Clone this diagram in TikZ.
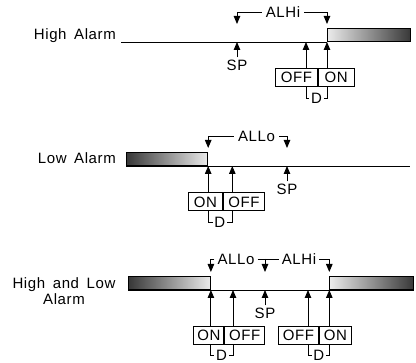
\documentclass[tikz,border=0pt]{standalone}
\usepackage{fontspec}
\setmainfont{Liberation Sans}[LetterSpace=4.0,WordSpace=1.6]
\usetikzlibrary{arrows.meta}
\begin{document}
\begin{tikzpicture}[x=1pt,y=-1pt,
  lbl/.style={font=\fontsize{15}{16}\selectfont, inner sep=0pt},
  dlbl/.style={font=\fontsize{15}{16}\selectfont, inner sep=1.5pt},
  vbox/.style={draw, line width=1pt, minimum height=18pt, inner sep=0pt, anchor=north west, font=\fontsize{15}{16}\selectfont},
  arr/.style={line width=0.9pt, -{Triangle[width=6.5pt,length=8pt]}},
  conn/.style={line width=0.9pt},
  hibar/.style={draw, line width=0.9pt, minimum height=13pt, inner sep=0pt, anchor=south west, left color=black!8, right color=black!78},
  lobar/.style={draw, line width=0.9pt, minimum height=13pt, inner sep=0pt, anchor=south west, left color=black!78, right color=black!8}
]
\useasboundingbox (0,0) rectangle (416,363);

% ---------------- Panel 1: High Alarm ----------------
\node[lbl, anchor=base east] (t1) at (116,40) {High Alarm};
\coordinate (l1s) at (121,42);
\node[hibar, minimum width=83pt] (bar1) at (327,42) {};
\draw[conn] (l1s) -- (bar1.south west);
\coordinate (sp1) at (237,42);
\coordinate (off1a) at (306,42);
\coordinate (on1a) at (bar1.south west);
\node[lbl] (alhi1) at (283,12.5) {ALHi};
\draw[arr] ([xshift=-4pt]alhi1.west) -| ([yshift=18pt]sp1);
\draw[arr] ([xshift=4pt]alhi1.east) -| ([yshift=18pt]on1a);
\node[lbl] (sp1t) at (237,65) {SP};
\draw[arr] ([yshift=2pt]sp1t.north) -- (sp1);
\node[vbox, minimum width=41.7pt] (off1) at (275,68) {OFF};
\node[vbox, minimum width=36pt] (on1) at (off1.north east) {ON};
\draw[arr] (off1a |- off1.north) -- (off1a);
\draw[arr] (on1a |- on1.north) -- (on1a);
\node[dlbl] (d1) at (316.5,98.5) {D};
\draw[conn] (off1a |- off1.south) |- (d1.west);
\draw[conn] (on1a |- on1.south) |- (d1.east);

% ---------------- Panel 2: Low Alarm ----------------
\node[lbl, anchor=base east] (t2) at (116,164) {Low Alarm};
\node[lobar, minimum width=81.3pt] (bar2) at (126,166) {};
\coordinate (l2e) at (410,166);
\draw[conn] (bar2.south west) -- (l2e);
\coordinate (on2a) at (bar2.south east);
\coordinate (off2a) at (232.3,166);
\coordinate (sp2) at (287,166);
\node[lbl] (allo2) at (256.5,136) {ALLo};
\draw[arr] ([xshift=-4pt]allo2.west) -| ([yshift=18pt]on2a);
\draw[arr] ([xshift=4pt]allo2.east) -| ([yshift=18pt]sp2);
\node[lbl] (sp2t) at (287,189) {SP};
\draw[arr] ([yshift=2pt]sp2t.north) -- (sp2);
\node[vbox, minimum width=33.4pt] (on2) at (188.3,192.5) {ON};
\node[vbox, minimum width=41.6pt] (off2) at (on2.north east) {OFF};
\draw[arr] (on2a |- on2.north) -- (on2a);
\draw[arr] (off2a |- off2.north) -- (off2a);
\node[dlbl] (d2) at (219.8,222.5) {D};
\draw[conn] (on2a |- on2.south) |- (d2.west);
\draw[conn] (off2a |- off2.south) |- (d2.east);

% ---------------- Panel 3: High and Low Alarm ----------------
\node[lbl, align=center] (t3) at (64,291) {High and Low\\Alarm};
\node[lobar, minimum width=81.7pt] (bar3l) at (128.3,290) {};
\node[hibar, minimum width=84pt] (bar3r) at (329.3,290) {};
\draw[conn] (bar3l.south west) -- (bar3r.south east);
\coordinate (on3a) at (bar3l.south east);
\coordinate (off3a) at (233,290);
\coordinate (sp3) at (265,290);
\coordinate (off3b) at (308,290);
\coordinate (on3b) at (bar3r.south west);
\node[lbl] (allo3) at (236,259) {ALLo};
\node[lbl] (alhi3) at (299,259) {ALHi};
\draw[arr] ([xshift=-3pt]allo3.west) -| ([yshift=18pt]on3a);
\draw[conn] ([xshift=3pt]allo3.east) -- ([xshift=-3pt]alhi3.west);
\draw[arr] (sp3 |- allo3.east) -- ([yshift=18pt]sp3);
\draw[arr] ([xshift=3pt]alhi3.east) -| ([yshift=18pt]on3b);
\node[lbl] (sp3t) at (265,313) {SP};
\draw[arr] ([yshift=2pt]sp3t.north) -- (sp3);
\node[vbox, minimum width=30pt] (on3) at (193.3,326) {ON};
\node[vbox, minimum width=39.7pt] (off3) at (on3.north east) {OFF};
\node[vbox, minimum width=40pt] (off4) at (278,326) {OFF};
\node[vbox, minimum width=32pt] (on4) at (off4.north east) {ON};
\draw[arr] (on3a |- on3.north) -- (on3a);
\draw[arr] (off3a |- off3.north) -- (off3a);
\draw[arr] (off3b |- off4.north) -- (off3b);
\draw[arr] (on3b |- on4.north) -- (on3b);
\node[dlbl] (d3) at (221.5,355.5) {D};
\draw[conn] (on3a |- on3.south) |- (d3.west);
\draw[conn] (off3a |- off3.south) |- (d3.east);
\node[dlbl] (d4) at (318.7,355.5) {D};
\draw[conn] (off3b |- off4.south) |- (d4.west);
\draw[conn] (on3b |- on4.south) |- (d4.east);
\end{tikzpicture}
\end{document}
